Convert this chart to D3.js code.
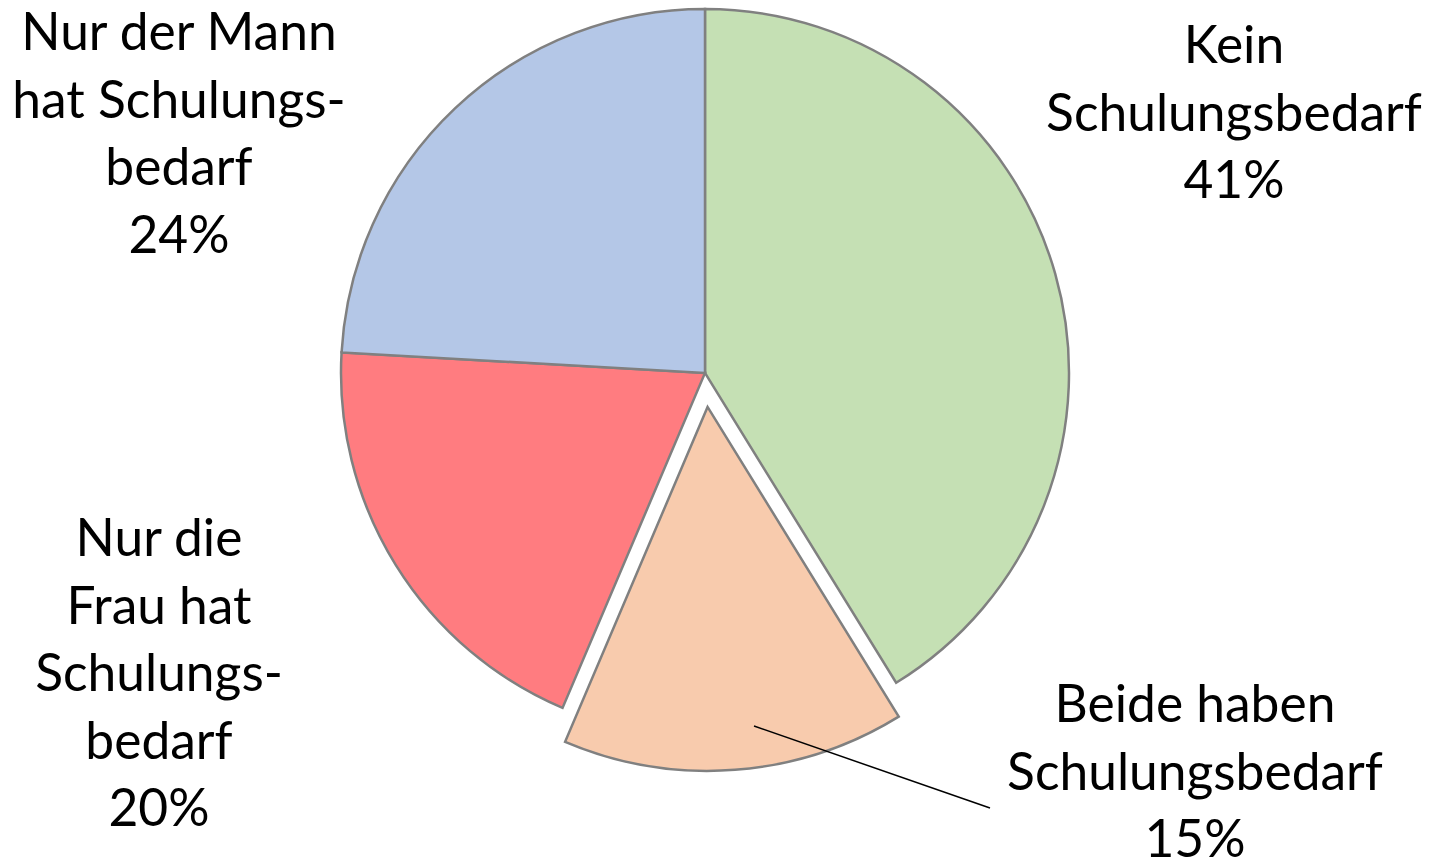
<!DOCTYPE html>
<html>
<head>
<meta charset="utf-8">
<script src="https://cdn.jsdelivr.net/npm/d3@7"></script>
<style>
  body { margin: 0; background: #fff; }
  svg text { font-family: Lato, "Open Sans", sans-serif; fill: #000; }
</style>
</head>
<body>
<div id="pie-chart"></div>
<script>
// data (slice shares, label texts as printed)
const categories = ["Kein Schulungsbedarf", "Beide haben Schulungsbedarf", "Nur die Frau hat Schulungsbedarf", "Nur der Mann hat Schulungsbedarf"];
const shares = [41.2, 15.2, 19.5, 24.1];
const percentLabels = ["41%", "15%", "20%", "24%"];
const labelLines = [
  ["Kein", "Schulungsbedarf"],
  ["Beide haben", "Schulungsbedarf"],
  ["Nur die", "Frau hat", "Schulungs-", "bedarf"],
  ["Nur der Mann", "hat Schulungs-", "bedarf"]
];
const colors = ["#C5E0B4", "#F8CBAD", "#FF7C80", "#B4C7E7"];

const width = 1430, height = 862;
const cx = 705, cy = 373, radius = 364;
const explode = [0, 34, 0, 0];
// label anchor (center x, first baseline)
const labelPos = [[1234, 63], [1195, 722], [159, 556], [179, 50]];
const lineGap = 67.5;

const svg = d3.select("#pie-chart")
  .append("svg")
  .attr("width", width)
  .attr("height", height);

const pie = d3.pie().value(d => d).sort(null);
const arc = d3.arc().innerRadius(0).outerRadius(radius);
const pieData = pie(shares);

const g = svg.append("g").attr("transform", `translate(${cx},${cy})`);

g.selectAll("path")
  .data(pieData)
  .enter()
  .append("path")
  .attr("d", arc)
  .attr("transform", (d, i) => {
    const mid = (d.startAngle + d.endAngle) / 2;
    return `translate(${Math.sin(mid) * explode[i]},${-Math.cos(mid) * explode[i]})`;
  })
  .attr("fill", (d, i) => colors[i])
  .attr("stroke", "#808080")
  .attr("stroke-width", 2.5)
  .attr("stroke-linejoin", "miter");

// leader line for the exploded slice
svg.append("line")
  .attr("x1", 754).attr("y1", 726)
  .attr("x2", 990).attr("y2", 808)
  .attr("stroke", "#000")
  .attr("stroke-width", 1.5);

// labels
labelLines.forEach((lines, i) => {
  const t = svg.append("text")
    .attr("text-anchor", "middle")
    .style("font-size", "51.5px");
  lines.concat([percentLabels[i]]).forEach((s, j) => {
    t.append("tspan")
      .attr("x", labelPos[i][0])
      .attr("y", labelPos[i][1] + j * lineGap)
      .text(s);
  });
});
</script>
</body>
</html>
